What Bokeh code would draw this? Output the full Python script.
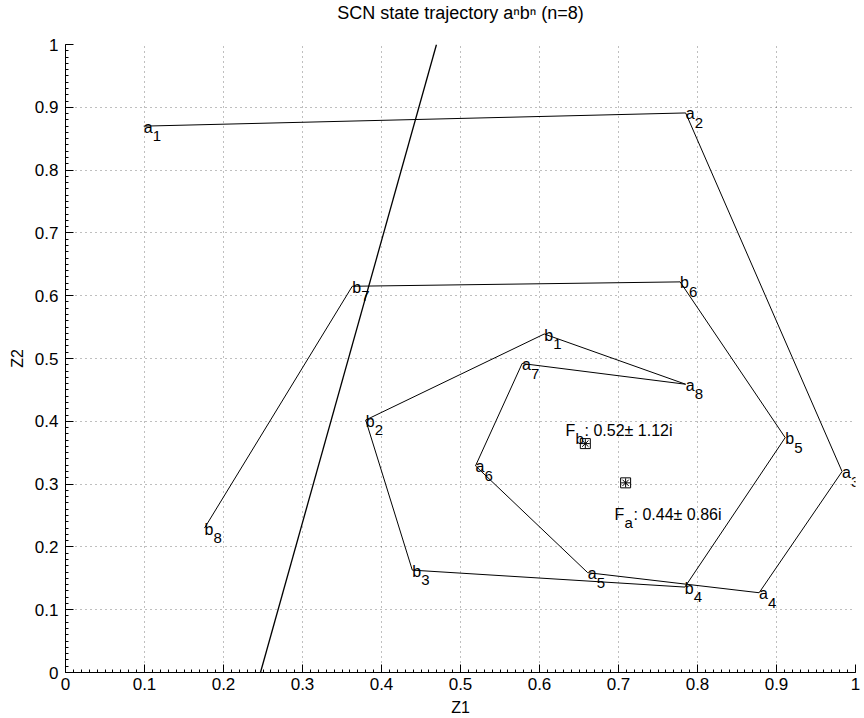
from bokeh.plotting import figure
from bokeh.models import FixedTicker, Range1d, ColumnDataSource, LabelSet
from bokeh.core.properties import value
from bokeh.embed import file_html
from bokeh.resources import INLINE

# ---- data ----
state_letter = ["a", "a", "a", "a", "a", "a", "a", "a",
                "b", "b", "b", "b", "b", "b", "b", "b"]
state_index = ["1", "2", "3", "4", "5", "6", "7", "8",
               "1", "2", "3", "4", "5", "6", "7", "8"]
z1 = [0.099, 0.785, 0.983, 0.878, 0.661, 0.519, 0.578, 0.785,
      0.606, 0.380, 0.439, 0.784, 0.911, 0.778, 0.363, 0.176]
z2 = [0.870, 0.891, 0.320, 0.127, 0.159, 0.329, 0.492, 0.459,
      0.539, 0.402, 0.163, 0.136, 0.374, 0.622, 0.615, 0.230]

# separating line
sep_z1 = [0.2468, 0.4696]
sep_z2 = [0.0, 1.0]

# fixed points
fp_z1 = [0.658, 0.709]
fp_z2 = [0.3645, 0.302]
fp_name = ["F", "F"]
fp_sub = ["b", "a"]
fp_val = [": 0.52\u00b1 1.12i", ": 0.44\u00b1 0.86i"]
fp_label_z1 = [0.633, 0.695]
fp_label_z2 = [0.385, 0.252]

ticks = [0.0, 0.1, 0.2, 0.3, 0.4, 0.5, 0.6, 0.7, 0.8, 0.9, 1.0]
tick_labels = ["0", "0.1", "0.2", "0.3", "0.4", "0.5", "0.6", "0.7", "0.8", "0.9", "1"]
minor_ticks = [i / 100 for i in range(101)]

FONT = "Liberation Sans"

p = figure(width=864, height=718, x_range=Range1d(0, 1), y_range=Range1d(0, 1),
           output_backend="svg", toolbar_location=None,
           min_border_left=65, min_border_right=9, min_border_top=43, min_border_bottom=46,
           title="SCN state trajectory a\u207fb\u207f (n=8)\n ")
p.outline_line_color = None
p.background_fill_color = "white"
p.border_fill_color = "white"

p.title.align = "center"
p.title.vertical_align = "bottom"
p.title.text_font = FONT
p.title.text_font_size = "18px"
p.title.text_font_style = "normal"
p.title.text_color = "black"
p.title.text_line_height = 1.1
p.title.standoff = 0

overrides = {t: l for t, l in zip(ticks, tick_labels)}
for ax in (p.xaxis[0], p.yaxis[0]):
    ax.ticker = FixedTicker(ticks=ticks, minor_ticks=minor_ticks)
    ax.major_label_overrides = overrides
    ax.major_tick_in = 8
    ax.major_tick_out = 0
    ax.minor_tick_in = 3
    ax.minor_tick_out = 0
    ax.axis_line_color = "black"
    ax.major_tick_line_color = "black"
    ax.minor_tick_line_color = "black"
    ax.major_label_text_font = FONT
    ax.major_label_text_font_size = "17px"
    ax.major_label_text_color = "black"
    ax.axis_label_text_font = FONT
    ax.axis_label_text_font_size = "16px"
    ax.axis_label_text_font_style = "normal"
    ax.axis_label_text_color = "black"
p.xaxis.axis_label = "Z1"
p.yaxis.axis_label = "Z2"
p.xaxis.major_label_standoff = 5
p.yaxis.major_label_standoff = 7
p.xaxis.axis_label_standoff = 6
p.yaxis.axis_label_standoff = 6

for g in (p.xgrid[0], p.ygrid[0]):
    g.ticker = FixedTicker(ticks=ticks)
    g.grid_line_color = "black"
    g.grid_line_alpha = 0.5
    g.grid_line_dash = "1 4"
    g.grid_line_width = 1

# trajectory
p.line(z1, z2, line_color="black", line_width=1)
# separating line
p.line(sep_z1, sep_z2, line_color="black", line_width=1.3)

# state labels
src = ColumnDataSource(dict(x=z1, y=z2, letter=state_letter, idx=state_index))
p.add_layout(LabelSet(x="x", y="y", text="letter", source=src, text_font=value(FONT),
                      text_font_size=value("16px"), text_align="left", text_baseline="alphabetic",
                      y_offset=-6.5, text_color="black"))
p.add_layout(LabelSet(x="x", y="y", text="idx", source=src, text_font=value(FONT),
                      text_font_size=value("15px"), text_align="left", text_baseline="alphabetic",
                      x_offset=9, y_offset=-15, text_color="black"))

# fixed points
p.scatter(fp_z1, fp_z2, marker="square", size=10, fill_color=None, line_color="black", line_width=1)
p.scatter(fp_z1, fp_z2, marker="asterisk", size=9, line_color="black", line_width=1)

fsrc = ColumnDataSource(dict(x=fp_label_z1, y=fp_label_z2, name=fp_name, sub=fp_sub, val=fp_val))
p.text(x="x", y="y", text="name", source=fsrc, text_font=value(FONT),
       text_font_size="16px", text_align="left", text_baseline="alphabetic", text_color="black")
p.text(x="x", y="y", text="sub", source=fsrc, text_font=value(FONT),
       text_font_size="15px", text_align="left", text_baseline="alphabetic",
       x_offset=10, y_offset=8, text_color="black")
p.text(x="x", y="y", text="val", source=fsrc, text_font=value(FONT),
       text_font_size="16px", text_align="left", text_baseline="alphabetic",
       x_offset=19, text_color="black")

open("out.html", "w").write(file_html(p, INLINE))
